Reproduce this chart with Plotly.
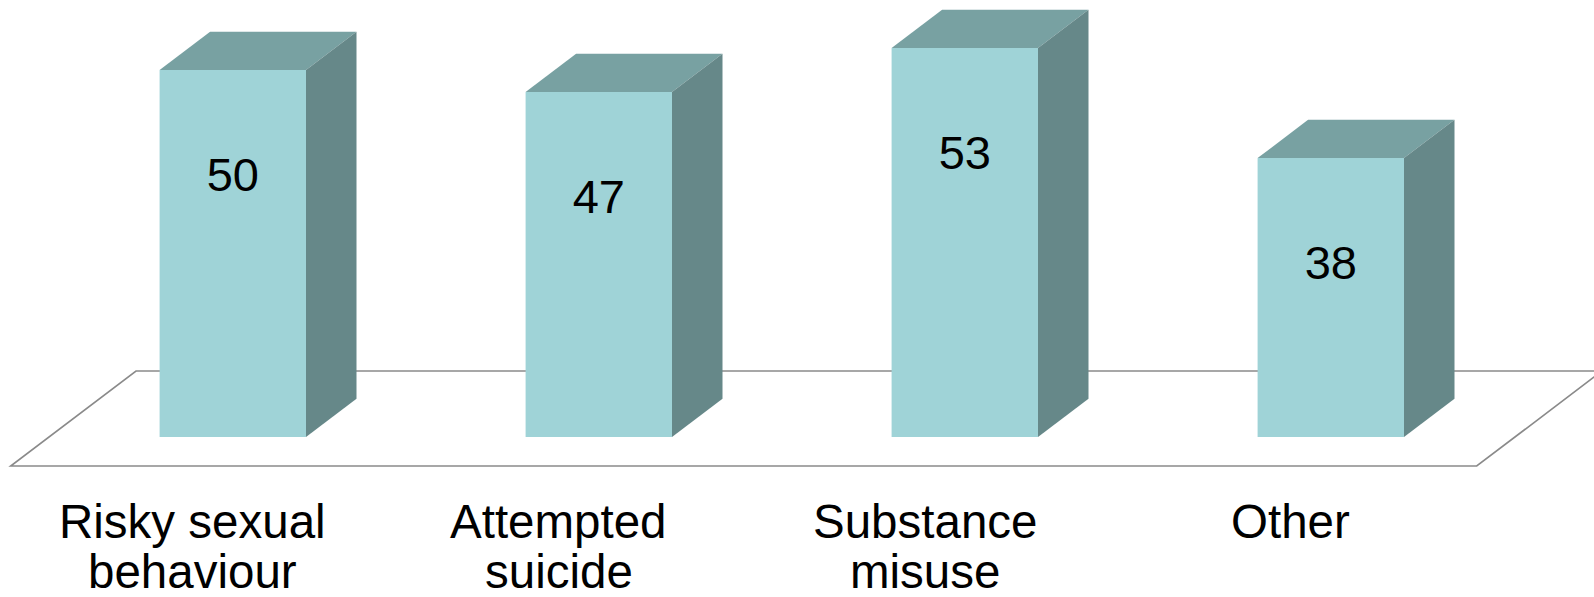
import plotly.graph_objects as go

# Category data
categories = ["Risky sexual behaviour", "Attempted suicide", "Substance misuse", "Other"]
label_lines = [["Risky sexual", "behaviour"], ["Attempted", "suicide"], ["Substance", "misuse"], ["Other"]]
values = [50, 47, 53, 38]

# Canvas geometry
W, H = 1594, 597
PX_FIRST = 232.8      # pixel x of first bar centre
PX_STEP = 366.0       # pixels between categories
PX_ZERO = 437.0       # pixel y of value 0
PX_PER_UNIT = 7.34    # pixels per value unit

x_range = [(0 - PX_FIRST) / PX_STEP, (W - PX_FIRST) / PX_STEP]
y_range = [-(H - PX_ZERO) / PX_PER_UNIT, PX_ZERO / PX_PER_UNIT]

BAR_W = 0.4
DEPTH_X = 50.5 / PX_STEP
DEPTH_Y = 38.3 / PX_PER_UNIT

FRONT = "#9FD3D7"
TOP = "#78A1A2"
SIDE = "#668889"
FLOOR_LINE = "#8A8A8A"
FONT = "Arial, 'Liberation Sans', sans-serif"

xs = list(range(len(categories)))

fig = go.Figure()

# Front faces of the bars
fig.add_trace(go.Bar(
    x=xs, y=values, width=BAR_W,
    marker=dict(color=FRONT, line=dict(width=0)),
    hoverinfo="skip", showlegend=False,
))

# Top and side faces for the 3D look
for x, v in zip(xs, values):
    l, r = x - BAR_W / 2, x + BAR_W / 2
    fig.add_trace(go.Scatter(
        x=[l, r, r + DEPTH_X, l + DEPTH_X, l],
        y=[v, v, v + DEPTH_Y, v + DEPTH_Y, v],
        fill="toself", fillcolor=TOP, mode="lines",
        line=dict(width=0, color=TOP), hoverinfo="skip", showlegend=False,
    ))
    fig.add_trace(go.Scatter(
        x=[r, r + DEPTH_X, r + DEPTH_X, r, r],
        y=[0, DEPTH_Y, v + DEPTH_Y, v, 0],
        fill="toself", fillcolor=SIDE, mode="lines",
        line=dict(width=0, color=SIDE), hoverinfo="skip", showlegend=False,
    ))

# Value labels on the front faces
LABEL_DROP = 109 / PX_PER_UNIT
fig.add_trace(go.Scatter(
    x=xs, y=[v - LABEL_DROP for v in values],
    mode="text", text=[str(v) for v in values],
    textposition="middle center",
    textfont=dict(family=FONT, size=47, color="#000000"),
    hoverinfo="skip", showlegend=False,
))

# Floor plane outline
floor_front = (PX_ZERO - 466) / PX_PER_UNIT
floor_back = (PX_ZERO - 371) / PX_PER_UNIT
fl = (10.7 - PX_FIRST) / PX_STEP
fr = (1476.7 - PX_FIRST) / PX_STEP
fdx = 125.3 / PX_STEP
fig.add_shape(
    type="path", xref="x", yref="y", layer="below",
    path=(f"M {fl},{floor_front} L {fr},{floor_front} L {fr + fdx},{floor_back} "
          f"L {fl + fdx},{floor_back} Z"),
    line=dict(color=FLOOR_LINE, width=1.6), fillcolor="rgba(0,0,0,0)",
)

# Category labels
LABEL_SHIFT = -40 / PX_STEP
line_y = [521, 571]
for x, lines in zip(xs, label_lines):
    for k, txt in enumerate(lines):
        fig.add_annotation(
            x=x + LABEL_SHIFT, xref="x",
            y=1 - line_y[k] / H, yref="paper",
            text=txt, showarrow=False,
            xanchor="center", yanchor="middle",
            font=dict(family=FONT, size=47.5, color="#000000"),
        )

fig.update_layout(
    width=W, height=H,
    margin=dict(l=0, r=0, t=0, b=0),
    paper_bgcolor="white", plot_bgcolor="white",
    xaxis=dict(range=x_range, visible=False, fixedrange=True),
    yaxis=dict(range=y_range, visible=False, fixedrange=True),
    showlegend=False,
)

fig.write_html("out.html")
